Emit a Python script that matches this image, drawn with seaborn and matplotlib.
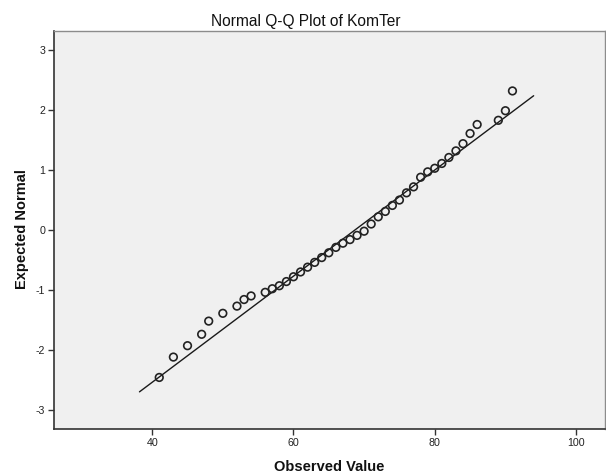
import matplotlib
matplotlib.use("Agg")
import matplotlib.pyplot as plt
import seaborn as sns
import pandas as pd

# ---- data ----
observed = [41, 43, 45, 47, 48, 50, 52, 53, 54, 56, 57, 58, 59, 60, 61, 62, 63, 64,
            65, 66, 67, 68, 69, 70, 71, 72, 73, 74, 75, 76, 77, 78, 79, 80, 81, 82,
            83, 84, 85, 86, 89, 90, 91]
expected = [-2.46, -2.12, -1.93, -1.74, -1.52, -1.39, -1.27, -1.16, -1.10, -1.04,
            -0.98, -0.93, -0.86, -0.78, -0.70, -0.62, -0.54, -0.46, -0.38, -0.29,
            -0.22, -0.16, -0.09, -0.02, 0.10, 0.22, 0.31, 0.41, 0.50, 0.62, 0.72,
            0.88, 0.97, 1.03, 1.11, 1.21, 1.32, 1.44, 1.61, 1.76, 1.83, 1.99, 2.32]
line_x = [38.2, 94.0]
line_y = [-2.70, 2.24]
x_ticks = [40, 60, 80, 100]
y_ticks = [-3, -2, -1, 0, 1, 2, 3]
title = "Normal Q-Q Plot of KomTer"
x_label = "Observed Value"
y_label = "Expected Normal"

df = pd.DataFrame({"Observed": observed, "Expected": expected})
line_df = pd.DataFrame({"x": line_x, "y": line_y})

sns.set_theme(style="white")
plt.rcParams["font.family"] = ["Liberation Sans", "DejaVu Sans"]

W, H = 606, 475
fig = plt.figure(figsize=(W / 100, H / 100), dpi=100)
ax = fig.add_axes([54 / W, 1 - 429 / H, (605 - 54) / W, (429 - 31) / H])
ax.set_facecolor("#F0F0F0")

sns.lineplot(data=line_df, x="x", y="y", ax=ax, color="#1a1a1a", linewidth=1.0,
             estimator=None, sort=False)
sns.scatterplot(data=df, x="Observed", y="Expected", ax=ax, marker="o", s=30,
                facecolor="none", edgecolor="#222222", linewidth=1.2, zorder=3)

ax.set_xlim(26.1, 104.1)
ax.set_ylim(-3.32, 3.32)
ax.set_xticks(x_ticks)
ax.set_yticks(y_ticks)
ax.set_xticklabels([str(t) for t in x_ticks])
ax.set_yticklabels([str(t) for t in y_ticks])

ax.tick_params(axis="both", direction="out", length=4.2, width=1.0, color="#333333",
               labelsize=7.7, labelcolor="#222222", pad=2)
ax.tick_params(axis="x", bottom=True)
ax.tick_params(axis="y", left=True)

for side in ["left", "bottom"]:
    ax.spines[side].set_color("#333333")
    ax.spines[side].set_linewidth(1.2)
for side in ["top", "right"]:
    ax.spines[side].set_visible(True)
    ax.spines[side].set_color("#8c8c8c")
    ax.spines[side].set_linewidth(1.0)

fig.text(306 / W, 1 - 26 / H, title, fontsize=11.2, color="#111111",
         ha="center", va="baseline")
ax.set_xlabel(x_label, fontsize=10.5, fontweight="bold", color="#111111")
ax.set_ylabel(y_label, fontsize=10.5, fontweight="bold", color="#111111")
ax.xaxis.set_label_coords(0.5 - 0 / 551, (429 - 467) / 398)
ax.xaxis.label.set_va("center")
ax.yaxis.set_label_coords((22 - 54) / 551, 0.5 + (230 - 229) / 398)
ax.yaxis.label.set_va("center")

fig.savefig("out.png", dpi=100, facecolor="white")
